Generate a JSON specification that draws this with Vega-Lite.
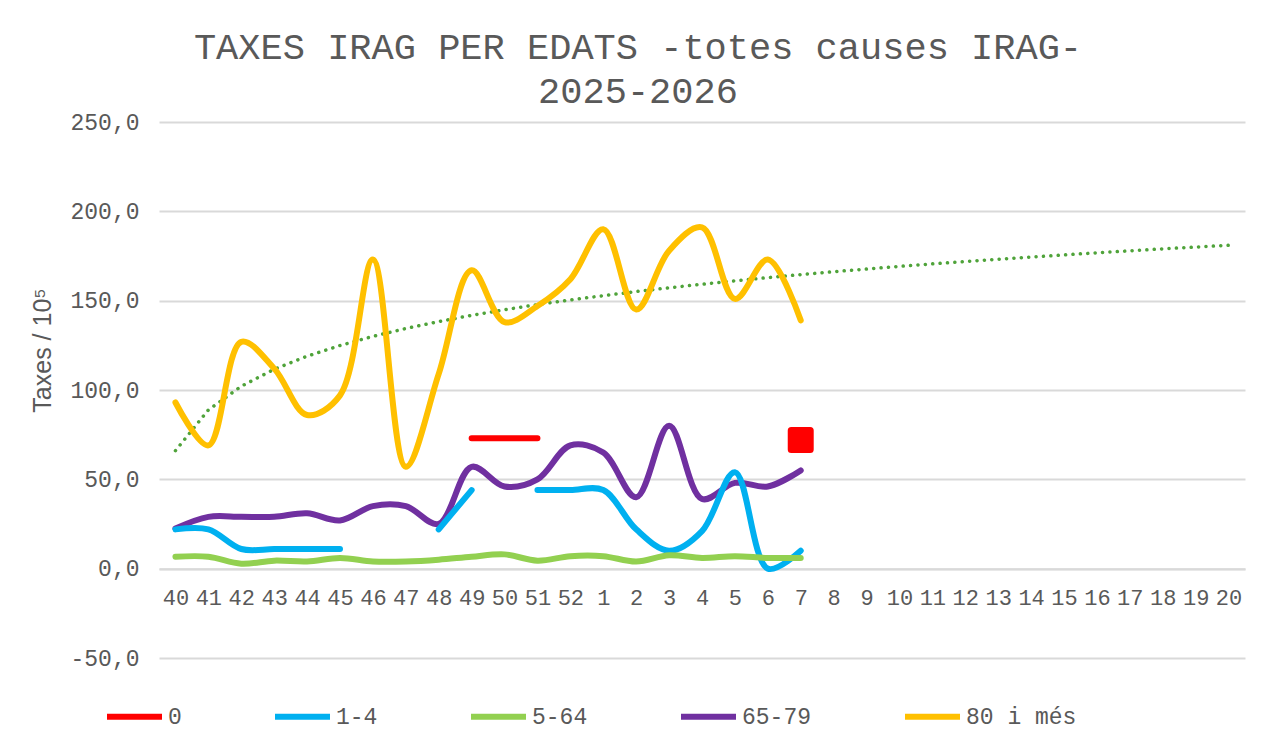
{
  "$schema": "https://vega.github.io/schema/vega-lite/v6.json",
  "width": 1086,
  "height": 536,
  "autosize": {"type": "none"},
  "padding": {"left": 159, "top": 122, "right": 25, "bottom": 79},
  "background": "white",
  "config": {
    "view": {"stroke": null},
    "font": "Liberation Mono"
  },
  "title": {
    "text": ["TAXES IRAG PER EDATS -totes causes IRAG-", "2025-2026"],
    "font": "Liberation Mono",
    "fontSize": 37,
    "fontWeight": "normal",
    "color": "#595959",
    "lineHeight": 44,
    "frame": "bounds",
    "anchor": "middle",
    "offset": 0
  },
  "datasets": {
    "main": [
      {"week": "40", "age": "80 i més", "v": 93},
      {"week": "41", "age": "80 i més", "v": 69},
      {"week": "42", "age": "80 i més", "v": 127},
      {"week": "43", "age": "80 i més", "v": 112},
      {"week": "44", "age": "80 i més", "v": 86},
      {"week": "45", "age": "80 i més", "v": 97},
      {"week": "46", "age": "80 i més", "v": 173},
      {"week": "47", "age": "80 i més", "v": 57},
      {"week": "48", "age": "80 i més", "v": 109},
      {"week": "49", "age": "80 i més", "v": 167},
      {"week": "50", "age": "80 i més", "v": 138},
      {"week": "51", "age": "80 i més", "v": 147},
      {"week": "52", "age": "80 i més", "v": 162},
      {"week": "1", "age": "80 i més", "v": 190},
      {"week": "2", "age": "80 i més", "v": 145},
      {"week": "3", "age": "80 i més", "v": 178},
      {"week": "4", "age": "80 i més", "v": 191},
      {"week": "5", "age": "80 i més", "v": 151},
      {"week": "6", "age": "80 i més", "v": 173},
      {"week": "7", "age": "80 i més", "v": 139},
      {"week": "40", "age": "65-79", "v": 22.5},
      {"week": "41", "age": "65-79", "v": 29},
      {"week": "42", "age": "65-79", "v": 29},
      {"week": "43", "age": "65-79", "v": 29},
      {"week": "44", "age": "65-79", "v": 31},
      {"week": "45", "age": "65-79", "v": 27},
      {"week": "46", "age": "65-79", "v": 35},
      {"week": "47", "age": "65-79", "v": 35},
      {"week": "48", "age": "65-79", "v": 25},
      {"week": "49", "age": "65-79", "v": 57},
      {"week": "50", "age": "65-79", "v": 46},
      {"week": "51", "age": "65-79", "v": 50},
      {"week": "52", "age": "65-79", "v": 69},
      {"week": "1", "age": "65-79", "v": 65},
      {"week": "2", "age": "65-79", "v": 40},
      {"week": "3", "age": "65-79", "v": 80},
      {"week": "4", "age": "65-79", "v": 39},
      {"week": "5", "age": "65-79", "v": 48},
      {"week": "6", "age": "65-79", "v": 46},
      {"week": "7", "age": "65-79", "v": 55},
      {"week": "40", "age": "1-4", "v": 22},
      {"week": "41", "age": "1-4", "v": 22},
      {"week": "42", "age": "1-4", "v": 11},
      {"week": "43", "age": "1-4", "v": 11},
      {"week": "44", "age": "1-4", "v": 11},
      {"week": "45", "age": "1-4", "v": 11},
      {"week": "46", "age": "1-4", "v": null},
      {"week": "47", "age": "1-4", "v": null},
      {"week": "48", "age": "1-4", "v": 22},
      {"week": "49", "age": "1-4", "v": 44},
      {"week": "50", "age": "1-4", "v": null},
      {"week": "51", "age": "1-4", "v": 44},
      {"week": "52", "age": "1-4", "v": 44},
      {"week": "1", "age": "1-4", "v": 44},
      {"week": "2", "age": "1-4", "v": 22},
      {"week": "3", "age": "1-4", "v": 10},
      {"week": "4", "age": "1-4", "v": 21},
      {"week": "5", "age": "1-4", "v": 54},
      {"week": "6", "age": "1-4", "v": 0},
      {"week": "7", "age": "1-4", "v": 10},
      {"week": "40", "age": "5-64", "v": 6.7},
      {"week": "41", "age": "5-64", "v": 6.7},
      {"week": "42", "age": "5-64", "v": 2.8},
      {"week": "43", "age": "5-64", "v": 4.5},
      {"week": "44", "age": "5-64", "v": 4},
      {"week": "45", "age": "5-64", "v": 6},
      {"week": "46", "age": "5-64", "v": 4},
      {"week": "47", "age": "5-64", "v": 4},
      {"week": "48", "age": "5-64", "v": 5},
      {"week": "49", "age": "5-64", "v": 6.7},
      {"week": "50", "age": "5-64", "v": 8},
      {"week": "51", "age": "5-64", "v": 4.5},
      {"week": "52", "age": "5-64", "v": 7},
      {"week": "1", "age": "5-64", "v": 7},
      {"week": "2", "age": "5-64", "v": 4},
      {"week": "3", "age": "5-64", "v": 7.5},
      {"week": "4", "age": "5-64", "v": 6},
      {"week": "5", "age": "5-64", "v": 7},
      {"week": "6", "age": "5-64", "v": 6},
      {"week": "7", "age": "5-64", "v": 6},
      {"week": "49", "age": "0", "v": 73},
      {"week": "50", "age": "0", "v": 73},
      {"week": "51", "age": "0", "v": 73},
      {"week": "52", "age": "0", "v": null},
      {"week": "7", "age": "0", "v": 72}
    ],
    "trend": [
      {"week": "40", "t": 66.0}, {"week": "41", "t": 88.8}, {"week": "42", "t": 102.1},
      {"week": "43", "t": 111.6}, {"week": "44", "t": 118.9}, {"week": "45", "t": 124.9},
      {"week": "46", "t": 130.0}, {"week": "47", "t": 134.4}, {"week": "48", "t": 138.3},
      {"week": "49", "t": 141.8}, {"week": "50", "t": 144.9}, {"week": "51", "t": 147.8},
      {"week": "52", "t": 150.4}, {"week": "1", "t": 152.8}, {"week": "2", "t": 155.1},
      {"week": "3", "t": 157.2}, {"week": "4", "t": 159.2}, {"week": "5", "t": 161.1},
      {"week": "6", "t": 162.9}, {"week": "7", "t": 164.6}, {"week": "8", "t": 166.2},
      {"week": "9", "t": 167.7}, {"week": "10", "t": 169.2}, {"week": "11", "t": 170.6},
      {"week": "12", "t": 171.9}, {"week": "13", "t": 173.2}, {"week": "14", "t": 174.4},
      {"week": "15", "t": 175.6}, {"week": "16", "t": 176.8}, {"week": "17", "t": 177.9},
      {"week": "18", "t": 179.0}, {"week": "19", "t": 180.0}, {"week": "20", "t": 181.0}
    ]
  },
  "encoding": {
    "x": {
      "field": "week",
      "type": "ordinal",
      "scale": {
        "type": "point",
        "padding": 0.5,
        "domain": ["40","41","42","43","44","45","46","47","48","49","50","51","52","1","2","3","4","5","6","7","8","9","10","11","12","13","14","15","16","17","18","19","20"]
      },
      "axis": {
        "title": null,
        "labelAngle": 0,
        "labelFont": "Liberation Mono",
        "labelFontSize": 22,
        "labelColor": "#595959",
        "labelPadding": 19,
        "ticks": false,
        "domain": true,
        "domainColor": "#d9d9d9",
        "domainWidth": 2,
        "offset": -89.33,
        "grid": false
      }
    }
  },
  "layer": [
    {
      "data": {"name": "trend"},
      "mark": {"type": "line", "color": "#4FA33A", "strokeWidth": 3.5, "strokeDash": [0.1, 7.3], "strokeCap": "round", "interpolate": "linear"},
      "encoding": {
        "y": {
          "field": "t",
          "type": "quantitative",
          "scale": {"domain": [-50, 250], "nice": false, "zero": false},
          "axis": {
            "title": "Taxes / 10⁵",
            "titleFont": "Liberation Sans",
            "titleFontSize": 25,
            "titleFontWeight": "normal",
            "titleColor": "#595959",
            "titlePadding": 14,
            "titleY": 228,
            "values": [-50, 0, 50, 100, 150, 200, 250],
            "labelExpr": "datum.value + ',0'",
            "labelFont": "Liberation Mono",
            "labelFontSize": 23,
            "labelColor": "#595959",
            "labelPadding": 20,
            "ticks": false,
            "domain": false,
            "grid": true,
            "gridColor": "#d9d9d9",
            "gridWidth": 2
          }
        }
      }
    },
    {
      "data": {"name": "main"},
      "mark": {"type": "line", "strokeWidth": 6, "strokeCap": "round", "strokeJoin": "round", "interpolate": "catmull-rom"},
      "encoding": {
        "y": {"field": "v", "type": "quantitative"},
        "color": {
          "field": "age",
          "type": "nominal",
          "scale": {
            "domain": ["0", "1-4", "5-64", "65-79", "80 i més"],
            "range": ["#FF0000", "#00B0F0", "#92D050", "#7030A0", "#FFC000"]
          },
          "legend": {
            "title": null,
            "orient": "none",
            "direction": "horizontal",
            "legendX": -55,
            "legendY": 564,
            "symbolType": "stroke",
            "symbolSize": 3025,
            "symbolStrokeWidth": 6,
            "labelFont": "Liberation Mono",
            "labelFontSize": 23,
            "labelColor": "#595959",
            "labelOffset": 3,
            "columnPadding": 81
          }
        },
        "detail": {"field": "age"}
      }
    },
    {
      "data": {"name": "main"},
      "transform": [{"filter": "datum.age == '0' && datum.week == '7'"}],
      "mark": {"type": "point", "shape": "square", "filled": true, "size": 360, "color": "#FF0000", "stroke": "#FF0000", "strokeWidth": 7, "strokeJoin": "round", "opacity": 1},
      "encoding": {
        "y": {"field": "v", "type": "quantitative"}
      }
    }
  ]
}
